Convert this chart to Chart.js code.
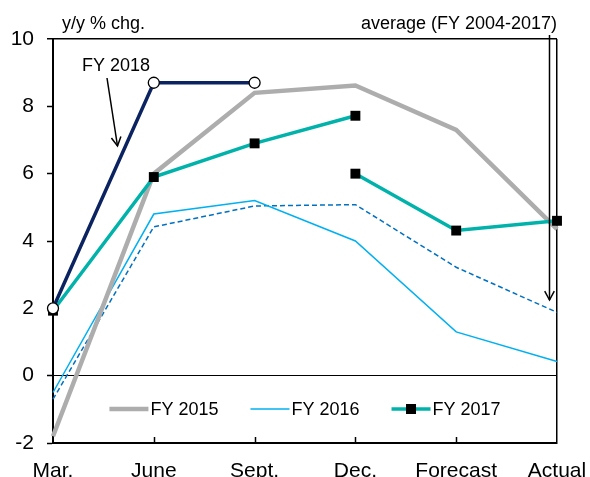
<!DOCTYPE html>
<html>
<head>
<meta charset="utf-8">
<script src="https://cdn.jsdelivr.net/npm/chart.js@4.4.0/dist/chart.umd.min.js"></script>
<style>
html, body { margin: 0; padding: 0; background: #fff; overflow: hidden; }
#wrap { width: 590px; height: 477px; overflow: hidden; }
</style>
</head>
<body>
<div id="wrap"><canvas id="chart" width="590" height="492"></canvas></div>
<script>
// 數據
const categories = ['Mar.', 'June', 'Sept.', 'Dec.', 'Forecast', 'Actual'];
const fy2015 = [-1.8, 6.0, 8.4, 8.62, 7.3, 4.35];
const fy2016 = [-0.5, 4.8, 5.2, 4.0, 1.3, 0.42];
const average = [-0.7, 4.42, 5.04, 5.08, 3.22, 1.88];
const fy2017a = [1.93, 5.9, 6.9, 7.72, null, null];
const fy2017b = [null, null, null, 6.0, 4.31, 4.6];
const fy2018 = [2.0, 8.7, 8.7, null, null, null];
const yTicks = [-2, 0, 2, 4, 6, 8, 10];

const FONT = "'Liberation Sans', Arial, sans-serif";
const C_GRAY = '#ADADAD';
const C_LBLUE = '#00B0F0';
const C_DBLUE = '#0070C0';
const C_TEAL = '#00B2AA';
const C_NAVY = '#0B2461';

// 圖例及標註
const overlayPlugin = {
    id: 'overlay',
    afterDraw(chart) {
        const ctx = chart.ctx;
        const x = chart.scales.x;
        const area = chart.chartArea;
        ctx.save();

        // x 軸內側刻度
        ctx.strokeStyle = '#000';
        ctx.lineWidth = 1.5;
        for (let i = 1; i < categories.length - 1; i++) {
            const px = Math.round(x.getPixelForValue(i)) + 0.5;
            ctx.beginPath();
            ctx.moveTo(px, area.bottom);
            ctx.lineTo(px, area.bottom - 6);
            ctx.stroke();
        }

        // 文字
        ctx.fillStyle = '#000';
        ctx.font = '18px ' + FONT;
        ctx.textBaseline = 'alphabetic';
        ctx.textAlign = 'left';
        ctx.fillText('y/y % chg.', 62, 29);
        ctx.fillText('FY 2018', 82, 71);
        ctx.textAlign = 'right';
        ctx.fillText('average (FY 2004-2017)', 557, 29);

        // 箭頭
        const arrow = (x1, y1, x2, y2) => {
            ctx.beginPath();
            ctx.moveTo(x1, y1);
            ctx.lineTo(x2, y2);
            ctx.stroke();
            const a = Math.atan2(y2 - y1, x2 - x1);
            const L = 10, w = 0.5;
            ctx.beginPath();
            ctx.moveTo(x2 - L * Math.cos(a - w), y2 - L * Math.sin(a - w));
            ctx.lineTo(x2, y2);
            ctx.lineTo(x2 - L * Math.cos(a + w), y2 - L * Math.sin(a + w));
            ctx.stroke();
        };
        ctx.lineWidth = 1.5;
        arrow(107, 78, 117.5, 146);
        arrow(549.5, 35, 549.5, 300);

        // 圖例
        const items = [
            { label: 'FY 2015', color: C_GRAY, width: 4.5, marker: false },
            { label: 'FY 2016', color: C_LBLUE, width: 1.5, marker: false },
            { label: 'FY 2017', color: C_TEAL, width: 3.5, marker: true }
        ];
        ctx.font = '18px ' + FONT;
        ctx.textAlign = 'left';
        ctx.textBaseline = 'middle';
        const lineLen = 39, gap = 2, spacing = 32;
        let total = 0;
        items.forEach((it, i) => {
            it.tw = ctx.measureText(it.label).width;
            total += lineLen + gap + it.tw + (i ? spacing : 0);
        });
        let lx = (area.left + area.right) / 2 - total / 2;
        const ly = 409;
        items.forEach(it => {
            ctx.strokeStyle = it.color;
            ctx.lineWidth = it.width;
            ctx.beginPath();
            ctx.moveTo(lx, ly);
            ctx.lineTo(lx + lineLen, ly);
            ctx.stroke();
            if (it.marker) {
                ctx.fillStyle = '#000';
                ctx.fillRect(lx + lineLen / 2 - 5, ly - 5, 10, 10);
            }
            ctx.fillStyle = '#000';
            ctx.fillText(it.label, lx + lineLen + gap, ly + 1);
            lx += lineLen + gap + it.tw + spacing;
        });
        ctx.restore();
    }
};

const chart = new Chart(document.getElementById('chart').getContext('2d'), {
    type: 'line',
    data: {
        labels: categories,
        datasets: [
            {
                label: 'FY 2018', data: fy2018, order: 0,
                borderColor: C_NAVY, borderWidth: 3.5,
                pointStyle: 'circle', pointRadius: 5.5,
                pointBackgroundColor: '#fff', pointBorderColor: '#000', pointBorderWidth: 1.3
            },
            {
                label: 'FY 2017', data: fy2017a, order: 1,
                borderColor: C_TEAL, borderWidth: 3.5,
                pointStyle: 'rect', pointRadius: 7,
                pointBackgroundColor: '#000', pointBorderColor: '#000', pointBorderWidth: 0
            },
            {
                label: 'FY 2017 (2)', data: fy2017b, order: 1,
                borderColor: C_TEAL, borderWidth: 3.5,
                pointStyle: 'rect', pointRadius: 7,
                pointBackgroundColor: '#000', pointBorderColor: '#000', pointBorderWidth: 0
            },
            {
                label: 'FY 2015', data: fy2015, order: 2,
                borderColor: C_GRAY, borderWidth: 4.5, pointRadius: 0
            },
            {
                label: 'FY 2016', data: fy2016, order: 3,
                borderColor: C_LBLUE, borderWidth: 1.5, pointRadius: 0
            },
            {
                label: 'average', data: average, order: 4,
                borderColor: C_DBLUE, borderWidth: 1.5, borderDash: [5, 3], pointRadius: 0
            }
        ].map(d => Object.assign({ fill: false, tension: 0, clip: false, spanGaps: false }, d))
    },
    options: {
        responsive: false,
        animation: false,
        events: [],
        layout: { padding: { top: 39, right: 33, left: 0, bottom: 0 } },
        plugins: { legend: { display: false }, tooltip: { enabled: false } },
        scales: {
            x: {
                offset: false,
                afterFit(scale) {
                    scale.height = 492 - 443;
                    scale.paddingLeft = 0;
                    scale.paddingRight = 0;
                },
                border: { display: true, color: '#000', width: 2 },
                grid: {
                    drawOnChartArea: true,
                    drawTicks: false,
                    color: c => c.index === categories.length - 1 ? '#000' : 'rgba(0,0,0,0)',
                    lineWidth: 1.5
                },
                ticks: {
                    color: '#000', padding: 16, maxRotation: 0, autoSkip: false,
                    font: { family: FONT, size: 21 }
                }
            },
            y: {
                min: -2, max: 10,
                afterFit(scale) {
                    scale.width = 53;
                    scale.paddingTop = 0;
                    scale.paddingBottom = 0;
                },
                afterBuildTicks(scale) { scale.ticks = yTicks.map(v => ({ value: v })); },
                border: { display: true, color: '#000', width: 2 },
                grid: {
                    drawOnChartArea: true,
                    drawTicks: true,
                    tickLength: 6,
                    tickColor: '#000',
                    tickWidth: 1.5,
                    color: c => (c.tick && (c.tick.value === 0 || c.tick.value === 10)) ? '#000' : 'rgba(0,0,0,0)',
                    lineWidth: c => (c.tick && c.tick.value === 10) ? 1.5 : 1
                },
                ticks: {
                    color: '#000', padding: 13,
                    font: { family: FONT, size: 21 }
                }
            }
        }
    },
    plugins: [overlayPlugin]
});
</script>
</body>
</html>
